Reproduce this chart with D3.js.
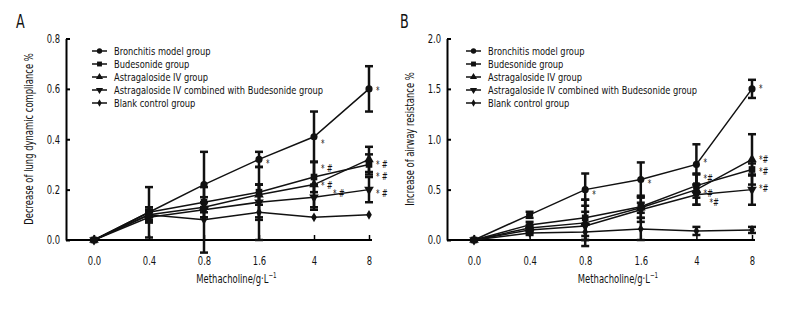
<!DOCTYPE html>
<html>
<head>
<meta charset="utf-8">
<script src="https://cdn.jsdelivr.net/npm/d3@7"></script>
<style>
  body { margin: 0; background: #fff; }
  svg { display: block; }
  text { font-family: "DejaVu Sans Condensed", "DejaVu Sans", sans-serif; fill: #111; }
</style>
</head>
<body>
<svg id="chart" width="792" height="312"></svg>
<script>
// x categories (methacholine, g/L)
const doses = ['0.0', '0.4', '0.8', '1.6', '4', '8'];

const groupNames = [
  'Bronchitis model group',
  'Budesonide group',
  'Astragaloside IV group',
  'Astragaloside IV combined with Budesonide group',
  'Blank control group'
];

// panel A: decrease of lung dynamic compliance %
const bronchitisA    = [0, 0.11, 0.22, 0.32, 0.41, 0.60];
const budesonideA    = [0, 0.11, 0.15, 0.19, 0.25, 0.30];
const astragalosideA = [0, 0.10, 0.13, 0.18, 0.22, 0.32];
const combinedA      = [0, 0.09, 0.12, 0.15, 0.17, 0.20];
const blankA         = [0, 0.10, 0.08, 0.11, 0.09, 0.10];

const bronchitisErrA    = [0, 0.10, 0.13, 0.03, 0.10, 0.09];
const budesonideErrA    = [0, 0.02, 0.02, 0.10, 0.06, 0.04];
const astragalosideErrA = [0, 0.03, 0.02, 0.04, 0.09, 0.05];
const combinedErrA      = [0, 0.02, 0.03, 0.07, 0.05, 0.05];
const blankErrA         = [0, 0.02, 0.13, 0.11, 0, 0];

// panel B: increase of airway resistance %
const bronchitisB    = [0, 0.25, 0.50, 0.60, 0.75, 1.50];
const budesonideB    = [0, 0.15, 0.22, 0.33, 0.54, 0.70];
const astragalosideB = [0, 0.12, 0.17, 0.32, 0.50, 0.80];
const combinedB      = [0, 0.10, 0.14, 0.30, 0.45, 0.50];
const blankB         = [0, 0.07, 0.08, 0.11, 0.09, 0.10];

const bronchitisErrB    = [0, 0.03, 0.16, 0.17, 0.20, 0.09];
const budesonideErrB    = [0, 0.03, 0.18, 0.11, 0.12, 0.06];
const astragalosideErrB = [0, 0.03, 0.23, 0.05, 0.15, 0.25];
const combinedErrB      = [0, 0.03, 0.14, 0.12, 0.10, 0.15];
const blankErrB         = [0, 0.02, 0.08, 0.11, 0.04, 0.03];

// significance marks: [dose, value where the mark sits, text]
const sigA = [
  ['1.6', 0.31, '*'],
  ['4', 0.39, '*'], ['4', 0.29, '* #'], ['4', 0.224, '* #'], ['4', 0.19, '* #'],
  ['8', 0.60, '*'], ['8', 0.305, '* #'], ['8', 0.257, '* #'], ['8', 0.19, '* #']
];
const sigB = [
  ['0.8', 0.465, '*'], ['1.6', 0.575, '*'],
  ['4', 0.785, '*'], ['4', 0.625, '*#'], ['4', 0.475, '*#'], ['4', 0.385, '*#'],
  ['8', 1.515, '*'], ['8', 0.815, '*#'], ['8', 0.695, '*#'], ['8', 0.525, '*#']
];

const yTicksA = [0, 0.2, 0.4, 0.6, 0.8];
const yTicksB = [0, 0.5, 1.0, 1.5, 2.0];

const shapes = [
  d3.symbol().type(d3.symbolCircle).size(40),
  d3.symbol().type(d3.symbolSquare).size(44),
  d3.symbol().type(d3.symbolTriangle).size(40),
  d3.symbol().type(d3.symbolTriangle).size(40),
  d3.symbol().type(d3.symbolDiamond).size(28)
];
const legendShapes = [
  d3.symbol().type(d3.symbolCircle).size(22),
  d3.symbol().type(d3.symbolSquare).size(24),
  d3.symbol().type(d3.symbolTriangle).size(22),
  d3.symbol().type(d3.symbolTriangle).size(22),
  d3.symbol().type(d3.symbolDiamond).size(16)
];
const flipped = [false, false, false, true, false];

const svg = d3.select('#chart');

// the original uses a condensed face; squeeze text horizontally
function condense(s) {
  return function(sel) {
    sel.each(function() {
      const t = d3.select(this);
      const x = +t.attr('x') || 0, y = +t.attr('y') || 0;
      const prev = t.attr('transform') || '';
      t.attr('x', 0).attr('y', 0)
        .attr('transform', prev + ' translate(' + x + ',' + y + ') scale(' + s + ',1)');
    });
  };
}

function drawPanel(opts) {
  const x = d3.scalePoint().domain(doses).range([opts.x0, opts.x1]);
  const y = d3.scaleLinear().domain([0, opts.ymax]).range([240, 38.5]);
  const g = svg.append('g');

  // y axis, ticks pointing inward
  const yAxis = g.append('g')
    .attr('transform', 'translate(' + opts.axisX + ',0)')
    .call(d3.axisLeft(y).tickValues(opts.yTicks).tickFormat(d3.format('.1f'))
      .tickSizeInner(-4).tickSizeOuter(0).tickPadding(6));
  yAxis.select('.domain').attr('stroke-width', 2);
  yAxis.selectAll('.tick line').attr('stroke-width', 2);
  yAxis.selectAll('text').attr('font-size', 12).style('font-family', null).call(condense(0.78));

  // x axis
  const xAxis = g.append('g')
    .attr('transform', 'translate(0,240)')
    .call(d3.axisBottom(x).tickSizeInner(-5).tickSizeOuter(0).tickPadding(16));
  xAxis.select('.domain').attr('d', 'M' + opts.axisX + ',0H' + (opts.x1 + 3)).attr('stroke-width', 2);
  xAxis.selectAll('.tick line').attr('stroke-width', 1.5);
  xAxis.selectAll('text').attr('font-size', 12).style('font-family', null).call(condense(0.78));

  // titles
  g.append('text')
    .attr('transform', 'translate(' + (opts.axisX - 33) + ',' + 139 + ') rotate(-90)')
    .attr('text-anchor', 'middle').attr('font-size', 12)
    .text(opts.yTitle)
    .call(condense(0.78));
  const xt = g.append('text')
    .attr('x', (opts.x0 + opts.x1) / 2 + 5).attr('y', 283)
    .attr('text-anchor', 'middle').attr('font-size', 12)
    .text('Methacholine/g·L');
  xt.append('tspan').attr('dy', -5).attr('font-size', 8).text('−1');
  xt.call(condense(0.78));
  g.append('text')
    .attr('x', opts.labelX).attr('y', 28)
    .attr('font-size', 19)
    .text(opts.label)
    .call(condense(0.745));

  const line = d3.line().x((d, i) => x(doses[i])).y(d => y(d));

  opts.series.forEach(s => {
    g.append('path')
      .datum(s.values)
      .attr('d', line)
      .attr('fill', 'none')
      .attr('stroke', '#111')
      .attr('stroke-width', 1.5);
  });

  // error bars
  opts.series.forEach(s => {
    const eb = g.append('g').selectAll('g')
      .data(s.values.map((v, i) => ({ v: v, e: s.err[i], d: doses[i] })).filter(p => p.e > 0))
      .join('g')
      .attr('stroke', '#111')
      .attr('stroke-width', 2.5);
    eb.append('line')
      .attr('x1', p => x(p.d)).attr('x2', p => x(p.d))
      .attr('y1', p => y(p.v - p.e)).attr('y2', p => y(p.v + p.e));
    eb.append('line')
      .attr('x1', p => x(p.d) - 4).attr('x2', p => x(p.d) + 4)
      .attr('y1', p => y(p.v + p.e)).attr('y2', p => y(p.v + p.e));
    eb.append('line')
      .attr('x1', p => x(p.d) - 4).attr('x2', p => x(p.d) + 4)
      .attr('y1', p => y(p.v - p.e)).attr('y2', p => y(p.v - p.e));
  });

  // markers
  opts.series.forEach((s, k) => {
    g.append('g').selectAll('path')
      .data(s.values)
      .join('path')
      .attr('d', shapes[k])
      .attr('transform', (d, i) => 'translate(' + x(doses[i]) + ',' + y(d) + ')' + (flipped[k] ? ' rotate(180)' : ''))
      .attr('fill', '#111');
  });

  // significance marks; nudge a mark right when it crowds the one above
  let lastDose = null, lastY = -99, lastShift = 0;
  const marks = opts.sig.map(d => {
    const py = y(d[1]);
    let shift = 0;
    if (d[0] === lastDose && py - lastY < 10 && lastShift === 0) shift = py - lastY < 9 ? 12 : 6;
    lastDose = d[0]; lastY = py; lastShift = shift;
    return { d: d, px: x(d[0]) + 7 + shift, py: py };
  });
  g.append('g').selectAll('text')
    .data(marks)
    .join('text')
    .attr('x', m => m.px)
    .attr('y', m => m.py + 5)
    .attr('font-size', 10.5)
    .attr('fill', '#555')
    .text(m => m.d[2])
    .call(condense(0.745));

  // legend
  const lg = g.append('g')
    .attr('transform', 'translate(' + opts.legendX + ',51)');
  const row = lg.selectAll('g')
    .data(groupNames)
    .join('g')
    .attr('transform', (d, i) => 'translate(0,' + (i * 13) + ')');
  row.append('line')
    .attr('x1', 0).attr('x2', 15)
    .attr('stroke', '#111').attr('stroke-width', 1.5);
  row.append('path')
    .attr('d', (d, i) => legendShapes[i]())
    .attr('transform', (d, i) => 'translate(7.5,0)' + (flipped[i] ? ' rotate(180)' : ''))
    .attr('fill', '#111');
  row.append('text')
    .attr('x', 22).attr('y', 4)
    .attr('font-size', 11)
    .text(d => d)
    .call(condense(0.84));
}

drawPanel({
  label: 'A', labelX: 16,
  axisX: 66, x0: 94, x1: 369, ymax: 0.8, yTicks: yTicksA,
  yTitle: 'Decrease of lung dynamic compliance %',
  legendX: 92,
  sig: sigA,
  series: [
    { values: bronchitisA, err: bronchitisErrA },
    { values: budesonideA, err: budesonideErrA },
    { values: astragalosideA, err: astragalosideErrA },
    { values: combinedA, err: combinedErrA },
    { values: blankA, err: blankErrA }
  ]
});

drawPanel({
  label: 'B', labelX: 400,
  axisX: 447, x0: 474, x1: 752, ymax: 2.0, yTicks: yTicksB,
  yTitle: 'Increase of airway resistance %',
  legendX: 466,
  sig: sigB,
  series: [
    { values: bronchitisB, err: bronchitisErrB },
    { values: budesonideB, err: budesonideErrB },
    { values: astragalosideB, err: astragalosideErrB },
    { values: combinedB, err: combinedErrB },
    { values: blankB, err: blankErrB }
  ]
});
</script>
</body>
</html>
